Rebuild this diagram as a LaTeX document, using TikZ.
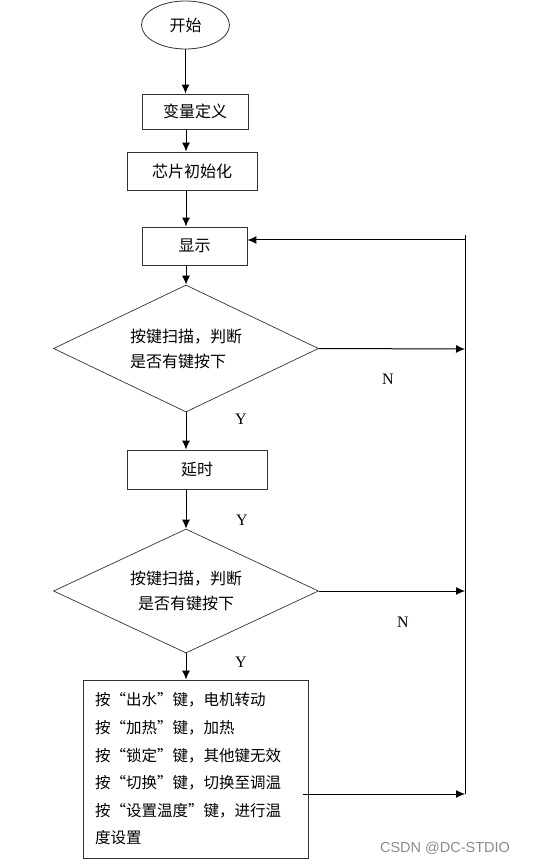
\documentclass[tikz,border=0pt]{standalone}
\usepackage{fontspec}
\setmainfont{Liberation Serif}
\newfontfamily\cjk{Noto Sans CJK SC}
\usetikzlibrary{shapes.geometric,arrows.meta}
\begin{document}
\begin{tikzpicture}[x=1pt,y=-1pt,
  every node/.style={inner sep=0pt},
  procbox/.style={draw=black!80,line width=0.9pt,rectangle,font=\cjk\fontsize{16}{20}\selectfont},
  decision/.style={draw=black!80,line width=0.7pt,diamond,aspect=2.1,font=\cjk\fontsize{16}{25}\selectfont},
  lbl/.style={font=\fontsize{16}{18}\selectfont},
  arr/.style={line width=1pt,-{Latex[length=9pt,width=8pt]}},
  ln/.style={line width=1pt}]
\useasboundingbox (0,0) rectangle (532,866);
\node[draw=black!80,line width=0.8pt,ellipse,minimum width=88pt,minimum height=48pt,font=\cjk\fontsize{16}{20}\selectfont] (start) at (185.5,25) {开始};
\node[procbox,minimum width=106pt,minimum height=35pt] (def) at (195,111.5) {变量定义};
\node[procbox,minimum width=130pt,minimum height=38pt] (init) at (192,171) {芯片初始化};
\node[procbox,minimum width=105pt,minimum height=38pt] (disp) at (194.5,246) {显示};
\node[decision,minimum width=265pt,minimum height=127pt,align=left] (d1) at (186,348.5) {按键扫描，判断\\是否有键按下};
\node[procbox,minimum width=140pt,minimum height=39pt] (delay) at (197,469.5) {延时};
\node[decision,minimum width=265pt,minimum height=124pt,align=center] (d2) at (186,591) {按键扫描，判断\\是否有键按下};
\node[procbox,minimum width=225pt,minimum height=178pt,align=left,text width=201pt,font=\cjk\fontsize{15.5}{27.6}\selectfont] (final) at (195.5,769)
 {按“出水”键，电机转动\\按“加热”键，加热\\按“锁定”键，其他键无效\\按“切换”键，切换至调温\\按“设置温度”键，进行温\\度设置};
\coordinate (rtop) at (465,235);
\coordinate (rret) at (465,240);
\coordinate (r1) at (465,349);
\coordinate (r2) at (465,591);
\coordinate (rb) at (465,794);
\draw[arr] (start.south) -- (start.south |- def.north);
\draw[arr] (def.south -| d1.north) -- (init.north -| d1.north);
\draw[arr] (init.south -| d1.north) -- (disp.north -| d1.north);
\draw[arr] (disp.south -| d1.north) -- (d1.north);
\draw[arr] (d1.south) -- (delay.north -| d1.south);
\draw[arr] (delay.south -| d2.north) -- (d2.north);
\draw[arr] (d2.south) -- (final.north -| d2.south);
\draw[arr] (d1.east) -- (r1);
\draw[arr] (d2.east) -- (r2);
\draw[arr] ([xshift=-5pt]final.east |- rb) -- (rb);
\draw[ln] (rtop) -- (rb);
\draw[arr] (rret) -- (disp.east |- rret);
\node[lbl] (n1) at (388,379) {N};
\node[lbl] (n2) at (403,622) {N};
\node[lbl] (y1) at (241,419) {Y};
\node[lbl] (y2) at (242,520) {Y};
\node[lbl] (y3) at (241,662) {Y};
\node[font=\fontspec{Liberation Sans}\fontsize{14.5}{16}\selectfont,text=black!45] (wm) at (445,848) {CSDN @DC-STDIO};
\end{tikzpicture}
\end{document}
